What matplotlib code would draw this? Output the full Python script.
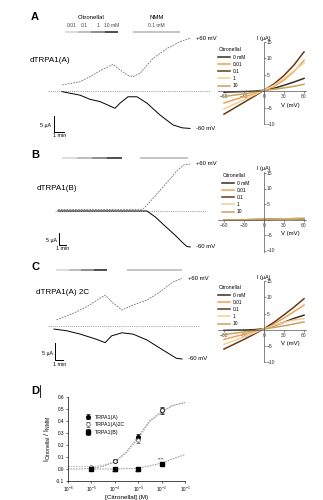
import numpy as np
import matplotlib
matplotlib.use('Agg')
import matplotlib.pyplot as plt

plt.rcParams['font.family'] = ['Liberation Sans', 'DejaVu Sans']
plt.rcParams['mathtext.fontset'] = 'custom'
plt.rcParams['mathtext.rm'] = 'Liberation Sans'
plt.rcParams['mathtext.it'] = 'Liberation Sans'

# -----------------------------------------------------------------------------
# DATA
# -----------------------------------------------------------------------------
# Two-electrode voltage clamp traces (time in min, current in uA)
tA_pos = [0, 1.8, 2.8, 3.8, 5.1, 5.6, 6.5, 7.1, 7.8, 9.1, 10.5, 11.8, 12.8]
iA_pos = [1.9, 2.9, 4.5, 6.3, 8.3, 7.1, 5.0, 4.5, 5.5, 10.2, 13.3, 15.4, 16.5]
tA_neg = [0, 1.8, 2.8, 3.8, 5.3, 5.8, 6.6, 7.5, 8.5, 9.8, 11.1, 12.0, 12.8]
iA_neg = [-0.2, -1.3, -2.6, -3.3, -5.4, -3.8, -1.8, -1.8, -3.8, -7.5, -10.6, -11.5, -11.7]

tB_pos = [0, 12.1, 13.1, 14.6, 16.0, 17.1, 18.0, 18.9]
iB_pos = [0.4, 0.5, 3.5, 8.5, 13.1, 16.9, 19.0, 19.4]
tB_neg = [0, 12.7, 13.9, 15.3, 16.7, 17.7, 18.4, 18.9]
iB_neg = [-0.2, -0.2, -2.7, -6.5, -10.2, -13.1, -15.0, -15.2]

tC_pos = [0.3, 2.4, 4.1, 6.4, 7.4, 8.5, 9.9, 11.6, 13.3, 14.9, 16.0]
iC_pos = [1.8, 3.7, 5.7, 9.1, 6.7, 4.7, 6.2, 7.6, 10.1, 13.0, 14.0]
tC_neg = [0, 1.6, 3.3, 5.3, 6.4, 7.2, 8.5, 9.9, 11.6, 13.3, 15.3, 16.0]
iC_neg = [-0.9, -1.4, -2.4, -3.9, -4.9, -2.9, -2.0, -2.4, -4.1, -6.6, -9.5, -9.7]

# Drug application periods (min): citronellal steps 0.01/0.1/1/10 mM, then NMM
citA = [0.3, 1.6, 2.9, 4.3, 5.6]
nmmA = [7.1, 11.8]
citB = [0.5, 2.7, 4.8, 7.0, 9.1]
nmmB = [11.7, 18.6]
citC = [0.3, 1.9, 3.4, 5.0, 6.6]
nmmC = [9.1, 16.0]

# I-V relations (uA) at each citronellal concentration
iv_volts = [-60, -45, -30, -15, 0, 15, 30, 45, 60]
conc_labels = ['0 mM', '0.01', '0.1', '1', '10']
ivA = {
    '0 mM': [-0.3, -0.2, -0.1, 0.0, 0.3, 0.9, 1.8, 2.8, 3.9],
    '0.01': [-3.6, -2.6, -1.7, -0.8, 0.2, 1.5, 3.4, 6.0, 9.4],
    '0.1':  [-7.0, -5.2, -3.4, -1.6, 0.3, 2.2, 4.8, 8.0, 12.0],
    '1':    [-5.4, -4.0, -2.6, -1.2, 0.3, 1.8, 3.9, 6.3, 8.6],
    '10':   [-1.6, -1.2, -0.8, -0.3, 0.2, 0.6, 1.0, 1.5, 2.1],
}
ivB = {
    '0 mM': [-0.2, -0.15, -0.1, -0.05, 0.0, 0.05, 0.1, 0.15, 0.2],
    '0.01': [-0.3, -0.2, -0.15, -0.05, 0.0, 0.1, 0.2, 0.3, 0.4],
    '0.1':  [-0.2, -0.15, -0.1, -0.05, 0.0, 0.1, 0.15, 0.25, 0.3],
    '1':    [-0.25, -0.2, -0.1, -0.05, 0.0, 0.1, 0.2, 0.3, 0.45],
    '10':   [-0.1, -0.1, -0.05, 0.0, 0.0, 0.05, 0.1, 0.15, 0.2],
}
ivC = {
    '0 mM': [-0.2, -0.15, -0.1, 0.0, 0.3, 1.2, 2.3, 3.5, 4.5],
    '0.01': [-3.0, -2.2, -1.4, -0.6, 0.3, 1.8, 3.6, 5.6, 7.6],
    '0.1':  [-6.0, -4.5, -3.0, -1.4, 0.3, 2.3, 4.6, 7.0, 9.6],
    '1':    [-4.5, -3.4, -2.2, -1.0, 0.3, 1.3, 2.3, 3.0, 3.4],
    '10':   [-1.5, -1.1, -0.7, -0.3, 0.2, 0.7, 1.2, 1.8, 2.4],
}
iv_colors = ['#3d2b1f', '#f0a255', '#6b3a1a', '#f3d09a', '#c9a25e']

# Dose-response (I_citronellal / I_NMM)
dose = [1e-5, 1e-4, 1e-3, 1e-2]
respA = [0.0, 0.065, 0.27, 0.49]
errA = [0.005, 0.01, 0.02, 0.03]
respA2C = [0.02, 0.07, 0.24, 0.49]
errA2C = [0.005, 0.01, 0.02, 0.02]
respB = [0.0, 0.0, 0.0, 0.045]
errB = [0.003, 0.003, 0.003, 0.012]
fit_x = [1e-6, 3e-6, 1e-5, 3e-5, 1e-4, 3e-4, 1e-3, 3e-3, 1e-2, 3e-2, 1e-1]
fitA = [0.0, 0.0, 0.005, 0.02, 0.06, 0.14, 0.27, 0.40, 0.48, 0.53, 0.555]
fitA2C = [0.02, 0.02, 0.02, 0.03, 0.06, 0.13, 0.25, 0.39, 0.47, 0.53, 0.55]
fitB_x = [1e-5, 3e-5, 1e-4, 3e-4, 1e-3, 3e-3, 1e-2, 3e-2, 1e-1]
fitB = [0.0, 0.0, 0.0, 0.002, 0.008, 0.025, 0.05, 0.085, 0.12]
dose_ticks = [1e-6, 1e-5, 1e-4, 1e-3, 1e-2, 1e-1]
dose_ticklabels = ['10$^{-6}$', '10$^{-5}$', '10$^{-4}$', '10$^{-3}$', '10$^{-2}$', '10$^{-1}$']

# =============================================================================
# FIGURE
# =============================================================================
W, H = 323, 500
fig = plt.figure(figsize=(W / 100, H / 100), dpi=100)


def px_axes(x0, y0, x1, y1):
    return fig.add_axes([x0 / W, 1 - y1 / H, (x1 - x0) / W, (y1 - y0) / H])


def fig_text(x, y, s, **kw):
    kw.setdefault('ha', 'left')
    kw.setdefault('va', 'center')
    fig.text(x / W, 1 - y / H, s, **kw)


def trace_panel(box, t0, zero, ppm, ppu, pos, neg, cit, nmm, bar_y, scale_xy):
    x0, y0, x1, y1 = box
    ax = px_axes(*box)
    ax.set_xlim((x0 - t0) / ppm, (x1 - t0) / ppm)
    ax.set_ylim((zero - y1) / ppu, (zero - y0) / ppu)
    ax.axis('off')
    ax.axhline(0, color='#9a9a9a', lw=0.7, ls=(0, (1, 1.2)))
    ax.plot(*pos, color='#777777', lw=0.6, ls=(0, (2.2, 1.2)))
    ax.plot(*neg, color='k', lw=0.7)
    ax.annotate('+60 mV', xy=(pos[0][-1], pos[1][-1]), xytext=(4, 0),
                textcoords='offset points', fontsize=4.3, va='center',
                annotation_clip=False)
    ax.annotate('-60 mV', xy=(neg[0][-1], neg[1][-1]), xytext=(4, 0),
                textcoords='offset points', fontsize=4.3, va='center',
                annotation_clip=False)
    # application bars
    yb = (zero - bar_y) / ppu
    shades = ['#dcdcdc', '#bdbdbd', '#8c8c8c', '#4d4d4d']
    for k in range(4):
        ax.plot(cit[k:k + 2], [yb, yb], color=shades[k], lw=1.4,
                solid_capstyle='butt', clip_on=False)
    ax.plot(nmm, [yb, yb], color='#c4c4c4', lw=1.4, solid_capstyle='butt',
            clip_on=False)
    # scale bar
    sx = (scale_xy[0] - t0) / ppm
    sy = (zero - scale_xy[1]) / ppu
    ax.plot([sx, sx, sx + 1], [sy + 5, sy, sy], color='k', lw=0.7,
            clip_on=False)
    ax.text(sx - 0.25, sy + 1.8, '5 μA', ha='right', va='center',
            fontsize=3.8, clip_on=False)
    ax.text(sx + 0.6, sy - 0.6, '1 min', ha='center', va='top',
            fontsize=3.8, clip_on=False)
    return ax, yb


def iv_panel(box, origin, ppmv, ppu, curves, leg_xy):
    x0, y0, x1, y1 = box
    ox, oy = origin
    ax = px_axes(*box)
    ax.patch.set_alpha(0)
    ax.set_xlim((x0 - ox) / ppmv, (x1 - ox) / ppmv)
    ax.set_ylim((oy - y1) / ppu, (oy - y0) / ppu)
    for lab, col in zip(conc_labels, iv_colors):
        ax.plot(iv_volts, curves[lab], color=col, lw=1.1, label=lab)
    ax.spines['left'].set_visible(False)
    ax.spines['top'].set_visible(False)
    ax.spines['right'].set_position(('data', 0))
    ax.spines['bottom'].set_position(('data', 0))
    for s in ('right', 'bottom'):
        ax.spines[s].set_linewidth(0.5)
        ax.spines[s].set_color('#555555')
    ax.yaxis.tick_right()
    ax.set_yticks([-10, -5, 5, 10, 15])
    ax.set_xticks([-60, -30, 0, 30, 60])
    ax.tick_params(labelsize=3.6, length=1.2, width=0.4, pad=1,
                   colors='#333333')
    ax.text(0, ax.get_ylim()[1] + 0.4, 'I (μA)', ha='center', va='bottom',
            fontsize=4)
    ax.text(40, -4.4, 'V (mV)', ha='center', va='center', fontsize=4.3)
    ax.legend(title='Citronellal', loc='upper left',
              bbox_to_anchor=(leg_xy[0] / W, 1 - leg_xy[1] / H),
              bbox_transform=fig.transFigure, fontsize=3.5,
              title_fontsize=3.6, frameon=False, handlelength=2.4,
              handletextpad=0.5, labelspacing=0.45, borderpad=0,
              alignment='left')
    return ax


# ---- Panel A ----------------------------------------------------------------
axA, ybA = trace_panel((48, 30, 210, 135), 62, 91, 10, 3.2,
                       (tA_pos, iA_pos), (tA_neg, iA_neg),
                       citA, nmmA, 32, (54, 131.5))
for k, lab in enumerate(['0.01', '0.1', '1', '10 mM']):
    axA.text((citA[k] + citA[k + 1]) / 2, ybA + 1.2, lab, ha='center',
             va='bottom', fontsize=3.6, color='#444444')
axA.text((citA[0] + citA[-1]) / 2, ybA + 3.6, 'Citronellal', ha='center',
         va='bottom', fontsize=4.3)
axA.text(sum(nmmA) / 2, ybA + 1.2, '0.1 mM', ha='center', va='bottom',
         fontsize=3.6, color='#444444')
axA.text(sum(nmmA) / 2, ybA + 3.6, 'NMM', ha='center', va='bottom',
         fontsize=4.3)
fig_text(31, 17, 'A', fontsize=8, fontweight='bold')
fig_text(30, 60, 'dTRPA1(A)', fontsize=5.8)
iv_panel((218, 42, 306, 124), (264, 91.5), 0.667, 3.3, ivA, (216, 45))

# ---- Panel B ----------------------------------------------------------------
trace_panel((55, 150, 207, 255), 58, 210.5, 7, 2.4,
            (tB_pos, iB_pos), (tB_neg, iB_neg),
            citB, nmmB, 158, (58.5, 245))
fig_text(31, 155, 'B', fontsize=8, fontweight='bold')
fig_text(37, 189, 'dTRPA1(B)', fontsize=5.8)
iv_panel((218, 172, 306, 252), (264, 219.5), 0.667, 3.1, ivB, (220, 171))

# ---- Panel C ----------------------------------------------------------------
trace_panel((48, 265, 200, 368), 54, 326, 8, 3.4,
            (tC_pos, iC_pos), (tC_neg, iC_neg),
            citC, nmmC, 269.5, (54.5, 360))
fig_text(31, 267, 'C', fontsize=8, fontweight='bold')
fig_text(36, 293, 'dTRPA1(A) 2C', fontsize=5.8)
iv_panel((218, 281, 306, 362), (264, 330), 0.667, 3.25, ivC, (216, 283))

# ---- Panel D ----------------------------------------------------------------
axD = px_axes(68, 397, 185, 481)
axD.set_xscale('log')
axD.set_xlim(1e-6, 1e-1)
axD.set_ylim(-0.1, 0.6)
axD.plot(fit_x, fitA, color='#8a8a8a', lw=0.6, ls=(0, (2, 1.2)))
axD.plot(fit_x, fitA2C, color='#b0b0b0', lw=0.6, ls=(0, (2, 1.2)))
axD.plot(fitB_x, fitB, color='#8a8a8a', lw=0.6, ls=(0, (2, 1.2)))
axD.errorbar(dose, respA, yerr=errA, fmt='o', ms=2.6, color='k', mfc='k',
             elinewidth=0.5, capsize=1.2, capthick=0.5, label='TRPA1(A)')
axD.errorbar(dose, respA2C, yerr=errA2C, fmt='o', ms=2.6, color='#555555',
             mfc='white', mew=0.5, elinewidth=0.5, capsize=1.2,
             capthick=0.5, label='TRPA1(A)2C')
axD.errorbar(dose, respB, yerr=errB, fmt='s', ms=2.4, color='k', mfc='k',
             elinewidth=0.5, capsize=1.2, capthick=0.5, label='TRPA1(B)')
for xd, yd, off in zip(dose[1:], respB[1:], [-0.035, -0.035, 0.035]):
    axD.text(xd, yd + off, '****', ha='center', va='center', fontsize=3)
axD.spines['top'].set_visible(False)
axD.spines['right'].set_visible(False)
for s in ('left', 'bottom'):
    axD.spines[s].set_linewidth(0.5)
axD.set_xticks(dose_ticks)
axD.set_xticklabels(dose_ticklabels)
axD.xaxis.set_minor_locator(matplotlib.ticker.NullLocator())
axD.set_yticks(np.arange(-0.1, 0.61, 0.1))
axD.set_yticklabels(['-0.1', '0.0', '0.1', '0.2', '0.3', '0.4', '0.5', '0.6'])
axD.tick_params(labelsize=3.4, length=1.5, width=0.4, pad=1)
axD.set_xlabel('[Citronellal] (M)', fontsize=4.6, labelpad=1)
axD.set_ylabel('I$_{Citronellal}$ / I$_{NMM}$', fontsize=5.2, labelpad=2)
axD.legend(loc='upper left', bbox_to_anchor=(82 / W, 1 - 412 / H),
           bbox_transform=fig.transFigure, fontsize=3.8, frameon=False,
           handlelength=1.2, handletextpad=0.8, labelspacing=0.5,
           borderpad=0)
fig_text(31, 391, 'D', fontsize=8, fontweight='bold')
fig.add_artist(plt.Line2D([40 / W, 40 / W], [1 - 385 / H, 1 - 397 / H],
                          color='k', lw=0.6))

fig.savefig('out.png', dpi=100)
plt.close(fig)
